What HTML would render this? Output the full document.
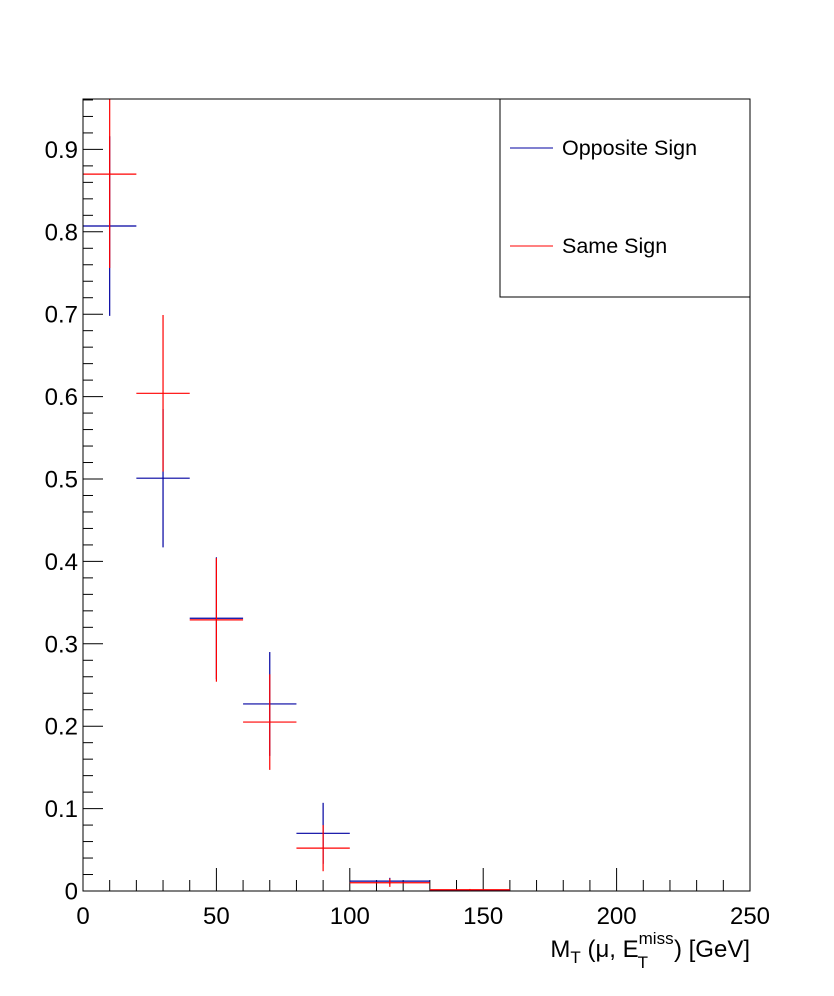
<!DOCTYPE html>
<html><head><meta charset="utf-8"><style>
body{margin:0;background:#fff}
svg text{font-family:"Liberation Sans",sans-serif;fill:#000}
</style></head><body>
<svg id="c" width="834" height="991">
<rect x="0" y="0" width="834" height="991" fill="#fff"/>
<g id="axes"></g><g id="marks"></g>
<rect x="83" y="99" width="667" height="792" fill="none" stroke="#000" stroke-width="1"/>
<g>
<rect x="500" y="99" width="250" height="198" fill="#fff" stroke="#000"/>
<line x1="510" y1="148" x2="553" y2="148" stroke="#0000a0"/>
<text x="562" y="155" font-size="21.5">Opposite Sign</text>
<line x1="510" y1="246" x2="553" y2="246" stroke="#ff0000"/>
<text x="562" y="253" font-size="21.5">Same Sign</text>
</g>
<text x="750" y="957" font-size="24" text-anchor="end">M<tspan font-size="17" dy="6">T</tspan><tspan dy="-6"> (μ, E</tspan><tspan font-size="17" dy="-13">miss</tspan><tspan font-size="17" dx="-36" dy="24">T</tspan><tspan dx="26" dy="-11">) [GeV]</tspan></text>
</svg>
<script>
const binLo=[0,20,40,60,80,100,130];
const binHi=[20,40,60,80,100,130,160];
const osVal=[0.807,0.501,0.331,0.227,0.070,0.012,0.001];
const osErr=[0.109,0.084,0.074,0.063,0.037,0.004,0.001];
const ssVal=[0.870,0.604,0.329,0.205,0.052,0.010,0.0015];
const ssErr=[0.114,0.095,0.075,0.058,0.028,0.005,0.001];
const xTicks=[0,50,100,150,200,250];
const yTicks=[0,0.1,0.2,0.3,0.4,0.5,0.6,0.7,0.8,0.9];
const NS='http://www.w3.org/2000/svg';
const X=v=>83+v*(667/250);
const Y=v=>891-v*824;
const Yc=v=>Math.max(99,Math.min(891,Y(v)));
const axes=document.getElementById('axes'),marks=document.getElementById('marks');
function mk(p,tag,a){const e=document.createElementNS(NS,tag);for(const k in a)e.setAttribute(k,a[k]);p.appendChild(e);return e;}
for(let v=0;v<=250;v+=10){const maj=v%50===0;
const t=mk(axes,'line',{x1:X(v),x2:X(v),y1:891,y2:maj?868:880,stroke:'#000'});

}
for(let i=0;i<=48;i++){const v=i*0.02;const maj=i%5===0;
const t=mk(axes,'line',{x1:83,x2:maj?103:93,y1:Y(v),y2:Y(v),stroke:'#000'});

}
xTicks.forEach(v=>{const t=mk(axes,'text',{x:X(v),y:924,'font-size':24,'text-anchor':'middle'});t.textContent=v;

});
yTicks.forEach(v=>{const t=mk(axes,'text',{x:78,y:Y(v)+8.5,'font-size':24,'text-anchor':'end'});t.textContent=v===0?'0':v.toFixed(1);

});
function series(vals,errs,col,name){
vals.forEach((v,i)=>{const cx=X((binLo[i]+binHi[i])/2);
const h=mk(marks,'line',{x1:X(binLo[i]),x2:X(binHi[i]),y1:Y(v),y2:Y(v),stroke:col,'stroke-width':1.2});


const e=mk(marks,'line',{x1:cx,x2:cx,y1:Yc(v+errs[i]),y2:Yc(v-errs[i]),stroke:col,'stroke-width':1.2});

});}
series(osVal,osErr,'#0000a0','opposite-sign');
series(ssVal,ssErr,'#ff0000','same-sign');
</script>
</body></html>
